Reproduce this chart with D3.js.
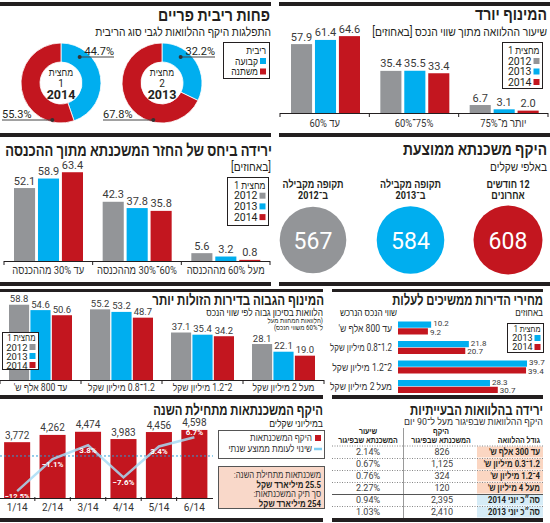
<!DOCTYPE html>
<html lang="he"><head><meta charset="utf-8">
<script src="https://cdn.jsdelivr.net/npm/d3@7/dist/d3.min.js"></script>
<style>
html,body{margin:0;padding:0;background:#fff;}
svg{display:block;}
text{font-family:Roboto,"Liberation Sans","DejaVu Sans",sans-serif;}
</style></head><body>
<svg id="chart" width="550" height="523"></svg>
<script>
// ================= DATA =================
const years = ["2012", "2013", "2014"];

// המינוף יורד  (ranges typed high־low so that they read low→high left to right in RTL)
const ltvCats = ["עד 60%", "75%־60%", "יותר מ־75%"];
const ltv2012 = [57.9, 35.4, 6.7];
const ltv2013 = [61.4, 35.5, 3.1];
const ltv2014 = [64.6, 33.4, 2.0];

// פחות ריבית פריים
const rateTypes = ["קבועה", "משתנה"];
const rateH1_2014 = [44.7, 55.3];
const rateH2_2013 = [32.2, 67.8];

// ירידה ביחס של החזר המשכנתא מתוך ההכנסה
const ptiCats = ["עד 30% מההכנסה", "60%־30% מההכנסה", "מעל 60% מההכנסה"];
const pti2012 = [52.1, 42.3, 5.6];
const pti2013 = [58.9, 37.8, 3.2];
const pti2014 = [63.4, 35.8, 0.8];

// היקף משכנתא ממוצעת
const avgCats = [["12 חודשים", "אחרונים"], ["תקופה מקבילה", "ב־2013"], ["תקופה מקבילה", "ב־2012"]];
const avgValues = [608, 584, 567];

// המינוף הגבוה בדירות הזולות יותר
const hlCats = ["עד 800 אלף ש'", "1.2־0.8 מיליון שקל", "2־1.2 מיליון שקל", "מעל 2 מיליון שקל"];
const hl2012 = [58.8, 55.2, 37.1, 28.1];
const hl2013 = [54.6, 53.2, 35.4, 22.1];
const hl2014 = [50.6, 48.7, 34.2, 19.0];

// מחירי הדירות ממשיכים לעלות
const priceCats = ["עד 800 אלף ש'", "1.2־0.8 מיליון שקל", "2־1.2 מיליון שקל", "מעל 2 מיליון שקל"];
const price2013 = [10.2, 21.8, 39.7, 28.3];
const price2014 = [9.2, 20.7, 39.4, 30.7];

// היקף המשכנתאות מתחילת השנה
const months = ["1/14", "2/14", "3/14", "4/14", "5/14", "6/14"];
const monthlyVolume = [3772, 4262, 4474, 3983, 4456, 4598];
const changeVsAvg = [-12.5, -1.1, 3.8, -7.6, 3.4, 6.7];
const ytdMortgages = "25.5 מיליארד שקל";
const totalPortfolio = "254 מיליארד שקל";

// ירידה בהלוואות הבעייתיות
const loanSizes = ["עד 300 אלף ש'", "1.2־0.3 מיליון ש'", "4־1.2 מיליון ש'", "מעל 4 מיליון ש'", "סה״כ יוני 2014", "סה״כ יוני 2013"];
const arrearsVolume = [826, 1125, 324, 120, 2395, 2410];
const arrearsRate = [2.14, 0.67, 0.76, 2.27, 0.94, 1.03];

// ================= STYLE =================
const GRAY = "#939598", BLUE = "#00aeef", RED = "#c3161f", DARK = "#231f20", VAL = "#3a3a3a";
const COLORS = { "2012": GRAY, "2013": BLUE, "2014": RED };
const COND = 0.82; // the original Hebrew face is condensed
const svg = d3.select("#chart");

function T(p, x, y, s, o = {}) {
  const a = o.anchor || "right";
  const g = p.append("g").attr("transform", `translate(${x},${y})`);
  const t = g.append("text").attr("x", 0).attr("y", 0).text(s)
    .attr("font-size", o.size || 10)
    .attr("fill", o.fill || DARK)
    .attr("dominant-baseline", "central");
  if (o.ltr) {
    t.attr("direction", "ltr").attr("text-anchor", a === "right" ? "end" : a === "left" ? "start" : "middle");
  } else {
    t.attr("direction", "rtl").attr("text-anchor", a === "right" ? "start" : a === "left" ? "end" : "middle");
  }
  if (o.bold) t.attr("font-weight", "bold");
  const nat = t.node().getComputedTextLength();
  let target = nat;
  if (o.w) target = o.w;
  else if (!o.ltr) target = nat * COND;
  if (o.maxW) target = Math.min(target, o.maxW);
  if (nat > 0 && Math.abs(target - nat) > 0.3) t.attr("transform", `scale(${target / nat},1)`);
  return g;
}

// separators
[[0, 2, 271, 4], [279, 2, 271, 4], [0, 133, 271, 4], [279, 133, 271, 4],
 [0, 282, 271, 4], [279, 282, 271, 4], [0, 289, 323, 3], [332, 289, 211, 3],
 [0, 395, 323, 4], [332, 395, 211, 4], [0, 518, 323, 4], [332, 518, 211, 4]]
  .forEach(r => svg.append("rect").attr("x", r[0]).attr("y", r[1]).attr("width", r[2]).attr("height", r[3]).attr("fill", DARK));

function legend(x, y, w, h, title, keys, colors, y0, step, size) {
  svg.append("rect").attr("x", x + 0.5).attr("y", y + 0.5).attr("width", w).attr("height", h)
    .attr("fill", "#fff").attr("stroke", DARK).attr("stroke-width", 1);
  const r = x + w - 2.5;
  T(svg, r, y0, title, { size });
  keys.forEach((k, i) => {
    const yy = y0 + step * (i + 1);
    svg.append("rect").attr("x", r - 6).attr("y", yy - 3).attr("width", 6).attr("height", 6).attr("fill", colors[i]);
    T(svg, r - 8, yy, k, { size, ltr: true });
  });
}

function groupedBars(c) {
  const g = svg.append("g");
  const x0 = d3.scaleBand().domain(c.cats).range(c.xr);
  const x1 = d3.scaleBand().domain(years).range(c.inner).paddingInner(c.pi);
  const y = d3.scaleLinear().domain([0, c.ymax]).range([c.base, c.base - c.ymax * c.ppu]);
  c.cats.forEach((cat, i) => {
    const gg = g.append("g").attr("transform", `translate(${x0(cat)},0)`);
    years.forEach((k, j) => {
      const v = c.series[j][i];
      gg.append("rect").attr("x", x1(k)).attr("y", y(v)).attr("width", x1.bandwidth())
        .attr("height", y(0) - y(v)).attr("fill", COLORS[k]);
      T(gg, x1(k) + x1.bandwidth() / 2, y(v) - c.vdy, d3.format(".1f")(v), { anchor: "middle", size: c.vsize, fill: VAL, ltr: true });
    });
    T(gg, x0.bandwidth() / 2, c.catY, cat, { anchor: "middle", size: c.csize, fill: "#333", maxW: x0.bandwidth() - 6 });
  });
  g.append("line").attr("x1", c.xr[0]).attr("x2", c.xr[1]).attr("y1", c.base + 0.5).attr("y2", c.base + 0.5)
    .attr("stroke", DARK).attr("stroke-width", 1.2);
  const bounds = c.cats.map(d => x0(d)).concat([c.xr[1]]);
  bounds.forEach(bx => g.append("line").attr("x1", bx).attr("x2", bx).attr("y1", c.base).attr("y2", c.base + 4)
    .attr("stroke", DARK).attr("stroke-width", 1));
}

// ===== A: המינוף יורד =====
T(svg, 547, 15, "המינוף יורד", { bold: true, size: 17, w: 72 });
T(svg, 547, 32, "שיעור ההלוואה מתוך שווי הנכס [באחוזים]", { size: 12, w: 175 });
groupedBars({ cats: ltvCats, series: [ltv2012, ltv2013, ltv2014], xr: [280, 548], inner: [11, 80], pi: 0.12,
  base: 113, ymax: 70, ppu: 1.19, vdy: 7, vsize: 11, catY: 123, csize: 11.5 });
legend(502, 42, 40, 46, "מחצית 1", years, [GRAY, BLUE, RED], 50.5, 10.5, 10.5);

// ===== B: פחות ריבית פריים =====
T(svg, 270, 15, "פחות ריבית פריים", { bold: true, size: 17, w: 112 });
T(svg, 271, 32, "התפלגות היקף ההלוואות לגבי סוג הריבית", { size: 12, w: 176 });
svg.append("rect").attr("x", 223.5).attr("y", 42.5).attr("width", 46).attr("height", 36).attr("fill", "#fff").attr("stroke", DARK);
T(svg, 266, 50, "ריבית", { size: 10.5 });
rateTypes.forEach((k, i) => {
  const yy = 61 + i * 10.5;
  svg.append("rect").attr("x", 260).attr("y", yy - 3).attr("width", 6).attr("height", 6).attr("fill", i === 0 ? BLUE : RED);
  T(svg, 258, yy, k, { size: 10.5 });
});
const pie = d3.pie().sort(null).value(d => d);
const arc = d3.arc().innerRadius(21).outerRadius(40);
function donut(cx, cy, vals, half, year) {
  const g = svg.append("g").attr("transform", `translate(${cx},${cy})`);
  g.selectAll("path").data(pie(vals)).join("path").attr("d", arc)
    .attr("fill", (d, i) => i === 0 ? BLUE : RED).attr("stroke", "#fff").attr("stroke-width", 0.8);
  const up = -26, dn = 37;
  const xu = Math.sqrt(32 * 32 - up * up), xd = -Math.sqrt(38 * 38 - dn * dn);
  g.append("line").attr("x1", xu).attr("x2", 53).attr("y1", up).attr("y2", up).attr("stroke", "#444").attr("stroke-width", 1);
  g.append("circle").attr("cx", xu).attr("cy", up).attr("r", 2).attr("fill", "#333");
  T(g, 53, up - 6, d3.format(".1f")(vals[0]) + "%", { anchor: "right", ltr: true, size: 11 });
  g.append("line").attr("x1", -59).attr("x2", xd).attr("y1", dn).attr("y2", dn).attr("stroke", "#444").attr("stroke-width", 1);
  g.append("circle").attr("cx", xd).attr("cy", dn).attr("r", 2).attr("fill", "#333");
  T(g, -59, dn - 6, d3.format(".1f")(vals[1]) + "%", { anchor: "left", ltr: true, size: 11 });
  T(g, 0, -11, "מחצית", { anchor: "middle", size: 10.5 });
  T(g, 0, 0, half, { anchor: "middle", size: 10, ltr: true });
  T(g, 0, 11.5, year, { anchor: "middle", size: 12.5, bold: true, ltr: true });
}
donut(162, 83, rateH2_2013, "2", "2013");
donut(61, 83, rateH1_2014, "1", "2014");

// ===== C: ירידה ביחס =====
T(svg, 272, 150, "ירידה ביחס של החזר המשכנתא מתוך ההכנסה", { bold: true, size: 17, w: 267 });
T(svg, 271, 167, "[באחוזים]", { size: 12, w: 40 });
groupedBars({ cats: ptiCats, series: [pti2012, pti2013, pti2014], xr: [4, 270], inner: [10, 79], pi: 0.12,
  base: 261, ymax: 70, ppu: 1.40, vdy: 7, vsize: 11, catY: 270, csize: 11.5 });
legend(227, 177, 41, 48, "מחצית 1", years, [GRAY, BLUE, RED], 185, 10.7, 10.5);

// ===== D: היקף משכנתא ממוצעת =====
T(svg, 547, 150, "היקף משכנתא ממוצעת", { bold: true, size: 17, w: 144 });
T(svg, 547, 167, "באלפי שקלים", { size: 12, w: 57 });
{
  const xc = d3.scalePoint().domain(d3.range(avgValues.length)).range([508, 313]);
  const rs = d3.scaleSqrt().domain([0, d3.max(avgValues)]).range([0, 34.5]);
  const cc = [RED, BLUE, GRAY];
  avgValues.forEach((v, i) => {
    svg.append("circle").attr("cx", xc(i)).attr("cy", 240).attr("r", rs(v)).attr("fill", cc[i]);
    T(svg, xc(i), 241, d3.format("d")(v), { anchor: "middle", size: 23, fill: "#fff", ltr: true });
    avgCats[i].forEach((line, k) => T(svg, xc(i), 184 + k * 11, line, { anchor: "middle", size: 11, bold: true }));
  });
}

// ===== E: המינוף הגבוה =====
T(svg, 324, 300, "המינוף הגבוה בדירות הזולות יותר", { bold: true, size: 15, w: 172 });
T(svg, 323, 312, "הלוואות בסיכון גבוה לפי שווי הנכס", { size: 10, w: 117 });
T(svg, 323, 321, "(הלוואות המהוות מעל", { size: 7.5 });
T(svg, 323, 328, "ל־60% משווי הנכס)", { size: 7.5 });
groupedBars({ cats: hlCats, series: [hl2012, hl2013, hl2014], xr: [0, 324], inner: [9, 72], pi: 0.06,
  base: 380, ymax: 60, ppu: 1.28, vdy: 6, vsize: 9.5, catY: 387, csize: 10.5 });
legend(2, 332, 36, 37, "מחצית 1", years, [GRAY, BLUE, RED], 338, 9, 9.5);

// ===== F: מחירי הדירות =====
T(svg, 543, 300, "מחירי הדירות ממשיכים לעלות", { bold: true, size: 15, w: 151 });
T(svg, 543, 313, "באחוזים", { size: 10 });
T(svg, 397, 313, "שווי הנכס הנרכש", { size: 10 });
{
  const keys = ["2013", "2014"];
  const x = d3.scaleLinear().domain([0, 40]).range([398, 528]);
  const y0 = d3.scaleBand().domain(priceCats).range([318, 396]);
  const y1 = d3.scaleBand().domain(keys).range([3.5, 16.5]).paddingInner(0.08);
  const series = [price2013, price2014];
  priceCats.forEach((c, i) => {
    keys.forEach((k, j) => {
      const v = series[j][i];
      const yy = y0(c) + y1(k);
      svg.append("rect").attr("x", x(0)).attr("y", yy).attr("width", x(v) - x(0)).attr("height", y1.bandwidth()).attr("fill", COLORS[k]);
      T(svg, x(v) + 2, yy + y1.bandwidth() / 2 + (j === 0 ? -1 : 1), d3.format(".1f")(v), { anchor: "left", size: 8, fill: VAL, ltr: true });
    });
    T(svg, 392, y0(c) + y0.bandwidth() / 2, c, { size: 10.5, fill: "#333", maxW: 62 });
  });
  legend(507, 323, 36, 29, "מחצית 1", keys, [BLUE, RED], 329, 9, 9);
}

// ===== G: היקף המשכנתאות =====
T(svg, 323, 410, "היקף המשכנתאות מתחילת השנה", { bold: true, size: 15, w: 170 });
T(svg, 323, 423, "במיליוני שקלים", { size: 10.5 });
{
  const x = d3.scaleBand().domain(months).range([-0.5, 212]).paddingInner(0.265).paddingOuter(0.13);
  const y = d3.scaleLinear().domain([0, 5000]).range([498, 424]);
  const yc = d3.scaleLinear().domain([-15, 10]).range([498.1, 427.9]);
  months.forEach((m, i) => {
    const v = monthlyVolume[i];
    svg.append("rect").attr("x", x(m)).attr("y", y(v)).attr("width", x.bandwidth()).attr("height", y(0) - y(v)).attr("fill", RED);
    T(svg, x(m) + x.bandwidth() / 2, y(v) - 7, d3.format(",")(v), { anchor: "middle", size: 10, fill: VAL, ltr: true });
    T(svg, x(m) + x.bandwidth() / 2, 507, m, { anchor: "middle", size: 10, fill: "#333", ltr: true });
  });
  svg.append("line").attr("x1", 0).attr("x2", 213).attr("y1", yc(0)).attr("y2", yc(0))
    .attr("stroke", "#2a9fd8").attr("stroke-width", 1).attr("stroke-dasharray", "2,2");
  const line = d3.line().x((d, i) => x(months[i]) + x.bandwidth() / 2).y(d => yc(d));
  svg.append("path").attr("d", line(changeVsAvg)).attr("fill", "none")
    .attr("stroke", "#a7dcf4").attr("stroke-width", 2.5).attr("stroke-opacity", 0.85);
  changeVsAvg.forEach((v, i) => {
    const dy = i === changeVsAvg.length - 1 ? -5 : 5;
    T(svg, x(months[i]) + x.bandwidth() / 2, yc(v) + dy, d3.format(".1f")(v) + "%", { anchor: "middle", size: 8, bold: true, fill: "#fff", ltr: true, maxW: 25 });
  });
  svg.append("line").attr("x1", 0).attr("x2", 213).attr("y1", 498.5).attr("y2", 498.5).attr("stroke", DARK).attr("stroke-width", 1);
  months.forEach((m, i) => {
    if (i === 0) return;
    const bx = x(m) - x.step() * x.paddingInner() / 2;
    svg.append("line").attr("x1", bx).attr("x2", bx).attr("y1", 497).attr("y2", 501).attr("stroke", DARK);
  });
  // legend
  svg.append("rect").attr("x", 218.5).attr("y", 430.5).attr("width", 106).attr("height", 28).attr("fill", "#fff").attr("stroke", "#555");
  svg.append("rect").attr("x", 315).attr("y", 435).attr("width", 6).attr("height", 6).attr("fill", RED);
  T(svg, 312, 438, "היקף המשכנתאות", { size: 10, fill: "#333" });
  svg.append("line").attr("x1", 314).attr("x2", 322).attr("y1", 449).attr("y2", 449).attr("stroke", "#7fcdf0").attr("stroke-width", 2.5);
  T(svg, 312, 449, "שינוי לעומת ממוצע שנתי", { size: 10, fill: "#333", maxW: 90 });
  // summary box
  svg.append("rect").attr("x", 218.5).attr("y", 466.5).attr("width", 106).attr("height", 42).attr("fill", "#f9d8c9").attr("stroke", "#555");
  T(svg, 321, 475, "משכנתאות מתחילת השנה:", { size: 9.5, fill: "#333", maxW: 99 });
  T(svg, 321, 484.5, ytdMortgages, { size: 9.5, bold: true });
  T(svg, 321, 494, "סך תיק המשכנתאות:", { size: 9.5, fill: "#333" });
  T(svg, 321, 503.5, totalPortfolio, { size: 9.5, bold: true });
}

// ===== H: ירידה בהלוואות הבעייתיות =====
T(svg, 543, 410, "ירידה בהלוואות הבעייתיות", { bold: true, size: 15, w: 133 });
T(svg, 543, 421, "היקף ההלוואות שבפיגור מעל ל־90 יום", { size: 9.5, w: 139, fill: "#333" });
{
  T(svg, 540, 440, "גודל ההלוואה", { size: 8.5, bold: true });
  T(svg, 441, 431, "היקף", { size: 8.5, bold: true, anchor: "middle" });
  T(svg, 441, 440, "המשכנתא שבפיגור", { size: 8.5, bold: true, anchor: "middle", maxW: 68 });
  T(svg, 368, 431, "שיעור", { size: 8.5, bold: true, anchor: "middle" });
  T(svg, 368, 440, "המשכנתא שבפיגור", { size: 8.5, bold: true, anchor: "middle", maxW: 68 });
  const y = d3.scaleBand().domain(d3.range(loanSizes.length)).range([446, 518]);
  svg.append("line").attr("x1", 403.5).attr("x2", 403.5).attr("y1", 428).attr("y2", 518).attr("stroke", "#9a9a9a");
  loanSizes.forEach((s, i) => {
    const yy = y(i), cy = yy + y.bandwidth() / 2;
    svg.append("rect").attr("x", 477).attr("y", yy + 0.5).attr("width", 66).attr("height", y.bandwidth() - 1)
      .attr("fill", i < 4 ? "#fbd6c2" : "#d6ecf7");
    T(svg, 540, cy, s, { size: 9.5, bold: true, maxW: 61 });
    T(svg, 442, cy, d3.format(",")(arrearsVolume[i]), { size: 9, anchor: "middle", fill: "#444", ltr: true });
    T(svg, 368, cy, d3.format(".2f")(arrearsRate[i]) + "%", { size: 9, anchor: "middle", fill: "#444", ltr: true });
    if (i > 0) {
      svg.append("line").attr("x1", 332).attr("x2", 543).attr("y1", yy + 0.5).attr("y2", yy + 0.5)
        .attr("stroke", i === 4 ? "#555" : "#888").attr("stroke-width", 1)
        .attr("stroke-dasharray", i === 4 ? null : "1,1.5");
    }
  });
  svg.append("line").attr("x1", 332).attr("x2", 543).attr("y1", 446).attr("y2", 446).attr("stroke", "#888").attr("stroke-dasharray", "1,1.5");
}
</script>
</body></html>
